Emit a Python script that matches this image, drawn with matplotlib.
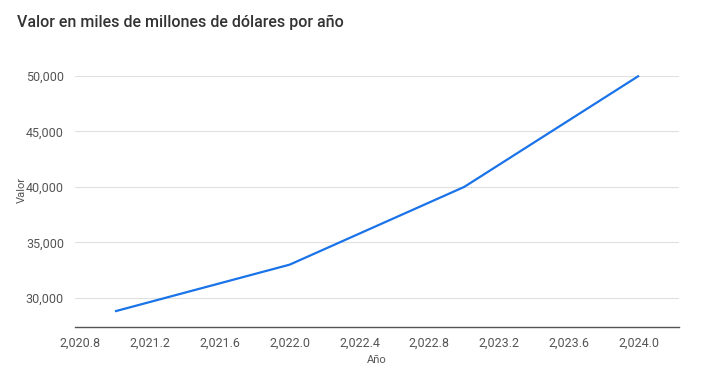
import matplotlib
matplotlib.use("Agg")
import matplotlib.pyplot as plt
from matplotlib.ticker import FuncFormatter, FixedLocator

plt.rcParams['font.family'] = ['Roboto', 'DejaVu Sans']

years = [2021, 2022, 2023, 2024]
values = [28800, 33000, 40000, 50000]
x_ticks = [2020.8, 2021.2, 2021.6, 2022.0, 2022.4, 2022.8, 2023.2, 2023.6, 2024.0]
y_ticks = [30000, 35000, 40000, 45000, 50000]

fig = plt.figure(figsize=(7.08, 3.8), dpi=100)
ax = fig.add_axes([75/708, 1-327/380, (679-75)/708, (327-75.7)/380])

ax.plot(years, values, color='#1a73e8', linewidth=1.6, clip_on=False, solid_capstyle='butt')

ax.set_xlim(2020.771, 2024.229)
ax.set_ylim(27390, 50000)
ax.xaxis.set_major_locator(FixedLocator(x_ticks))
ax.yaxis.set_major_locator(FixedLocator(y_ticks))
ax.xaxis.set_major_formatter(FuncFormatter(lambda v, p: f"{v:,.1f}"))
ax.yaxis.set_major_formatter(FuncFormatter(lambda v, p: f"{v:,.0f}"))

ax.grid(axis='y', color='#e0e0e0', linewidth=0.8)
ax.set_axisbelow(True)
for s in ['top', 'right', 'left']:
    ax.spines[s].set_visible(False)
ax.spines['bottom'].set_color('#555555')
ax.spines['bottom'].set_linewidth(1.0)
ax.tick_params(axis='both', length=0, labelsize=9, labelcolor='#555555')
ax.tick_params(axis='x', pad=7)
ax.tick_params(axis='y', pad=8)

ax.set_xlabel('Año', fontsize=8, color='#555555', labelpad=4)
fig.text(22/708, 1-190/380, 'Valor', rotation=90, fontsize=8, color='#555555', ha='center', va='center')
fig.text(17/708, 1-22/380, 'Valor en miles de millones de dólares por año', fontsize=11.5,
         fontweight='medium', color='#333333', ha='left', va='center')

fig.savefig('out.png', dpi=100)
